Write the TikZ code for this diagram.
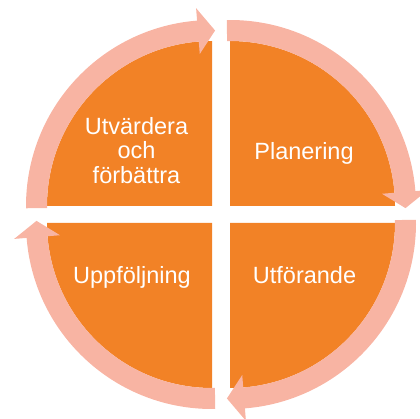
\documentclass[tikz,border=0pt]{standalone}
\usepackage{fontspec}
\setmainfont{Liberation Sans}
\definecolor{quadorange}{HTML}{F28226}
\definecolor{ringpink}{HTML}{F8B4A3}
\tikzset{
  quad/.style={fill=quadorange, draw=none},
  ringarrow/.style={fill=ringpink, draw=none},
  label/.style={text=white, inner sep=0pt, font=\fontsize{23.5}{24.5}\selectfont}
}
% #1 centre x, #2 centre y, #3 start angle, #4 head back angle, #5 tip angle
\newcommand{\cyclearrow}[5]{%
  \begin{scope}[shift={(#1,#2)}]
    \fill[ringarrow] (#3:186) arc[start angle=#3, end angle=#4, radius=186]
      -- (#4:198.5) -- (#5:175.5) -- (#4:152.5) -- (#4:165)
      arc[start angle=#4, end angle=#3, radius=165] -- cycle;
  \end{scope}}
\begin{document}
\begin{tikzpicture}[x=1pt,y=1pt]
\useasboundingbox (0,0) rectangle (420,418);
\clip (0,0) rectangle (420,418);
% quadrants
\fill[quad] (230,212) -- (230,377) arc[start angle=90, end angle=0, radius=165] -- cycle;
\fill[quad] (230,195) -- (395,195) arc[start angle=0, end angle=-90, radius=165] -- cycle;
\fill[quad] (212,195) -- (212,30) arc[start angle=-90, end angle=-180, radius=165] -- cycle;
\fill[quad] (212,212) -- (47,212) arc[start angle=180, end angle=90, radius=165] -- cycle;
% ring arrows
\cyclearrow{230}{212}{91}{4.6}{-0.7}
\cyclearrow{230}{195}{1}{-85.4}{-91}
\cyclearrow{212}{195}{-89}{-175.4}{-180.7}
\cyclearrow{212}{212}{180.7}{94.6}{89}
% labels
\node[label, anchor=base] (plan) at (304,258) {Planering};
\node[label, anchor=base] (utf) at (304.5,135) {Utförande};
\node[label, anchor=base] (upp) at (132,135) {Uppföljning};
\node[label, anchor=center, align=center] (utv) at (136.5,267.5) {Utvärdera\\och\\förbättra};
\end{tikzpicture}
\end{document}
